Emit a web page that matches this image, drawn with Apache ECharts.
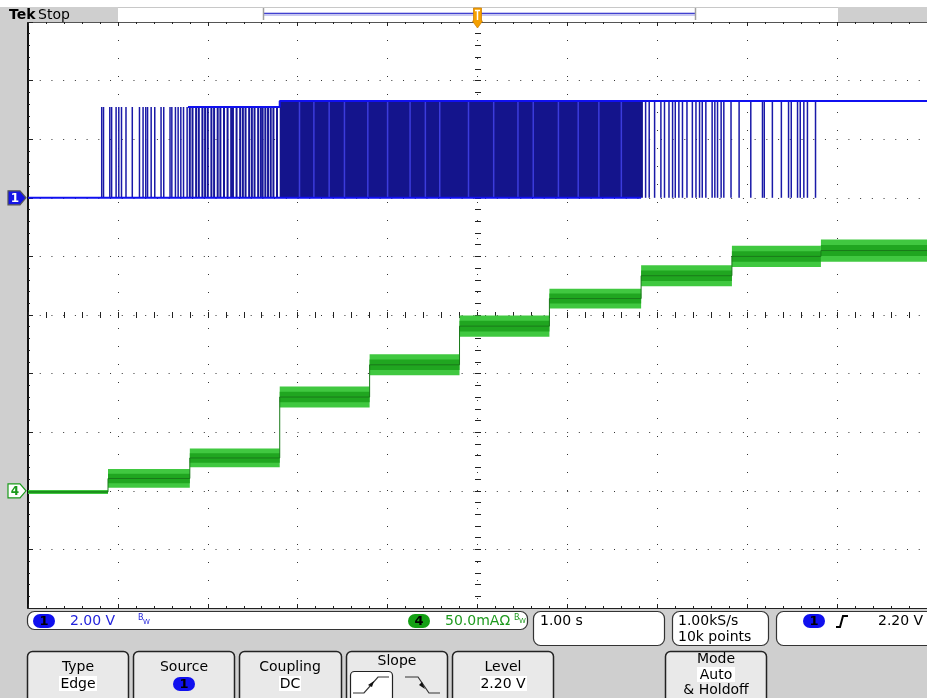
<!DOCTYPE html>
<html><head><meta charset="utf-8">
<script src="https://cdn.jsdelivr.net/npm/echarts@6/dist/echarts.min.js"></script>
<style>html,body{margin:0;padding:0;background:#fff}#c{width:927px;height:698px}</style>
</head><body><div id="c"></div><script>
// ---------- DATA ----------
// Horizontal: 1.00 s/div, trigger at 0 s; vertical grid in divisions
const gridDivs = [-5, 5];
// Channel 1 (2.00 V/div), logic levels in volts
const ch1Low = 0.0;
const ch1HighEarly = 3.1;
const ch1HighLate = 3.3;
const ch1LevelChangeT = -2.2;
const ch1TopStartT = -3.22;
const ch1LowEndT = 1.82;
// isolated high-going pulses (s)
const ch1EarlyPulseT = [-4.18, -4.16, -4.09, -4.07, -4.02, -3.99, -3.96, -3.91, -3.84, -3.76, -3.72, -3.69, -3.67, -3.63, -3.59, -3.52, -3.49, -3.42, -3.40, -3.36, -3.33, -3.30, -3.27, -3.23];
// closely spaced pulses before the dense burst (s)
const ch1MidPulseT = [-3.20, -3.17, -3.13, -3.10, -3.06, -3.03, -3.00, -2.96, -2.93, -2.89, -2.86, -2.82, -2.78, -2.74, -2.72, -2.68, -2.64, -2.61, -2.58, -2.54, -2.51, -2.48, -2.44, -2.41, -2.39, -2.36, -2.33, -2.30, -2.27, -2.23];
// unresolved dense toggling (start s, end s)
const ch1BurstStart = [-2.20];
const ch1BurstEnd = [1.84];
// lighter stripes visible inside the dense burst (s)
const ch1BurstLightT = [-1.98, -1.82, -1.65, -1.48, -1.22, -1.0, -0.75, -0.58, -0.42, -0.1, 0.18, 0.45, 0.62, 0.9, 1.12, 1.35, 1.6];
// isolated low-going pulses (s)
const ch1LatePulseT = [1.87, 1.91, 1.97, 2.04, 2.08, 2.13, 2.17, 2.20, 2.24, 2.28, 2.33, 2.39, 2.43, 2.47, 2.50, 2.54, 2.61, 2.64, 2.67, 2.71, 2.74, 2.82, 2.91, 3.04, 3.17, 3.19, 3.28, 3.38, 3.46, 3.49, 3.56, 3.59, 3.63, 3.67, 3.76];
// Channel 4 (50.0 mA/div) staircase
const ch4StepT = [-5, -4.11, -3.2, -2.2, -1.2, -0.2, 0.8, 1.82, 2.83, 3.82];
const ch4StepLevel = [-1, 10.5, 28, 80, 107.5, 140.5, 164, 183.5, 200, 205];
const ch4StepNoise = [3.5, 16, 16, 18, 18, 18, 17, 18, 18, 19];
const ch4EndT = 5;

// ---------- CHART ----------
const chart = echarts.init(document.getElementById('c'));
const FONT = 'DejaVu Sans';
const G = {left: 28, top: 22, width: 900, height: 586};

function hiAt(t) { return t < ch1LevelChangeT ? ch1HighEarly : ch1HighLate; }

const pulseData = ch1EarlyPulseT.concat(ch1LatePulseT).map(t => [t, 0]).concat(ch1MidPulseT.map(t => [t, 1]));
const burstData = ch1BurstStart.map((s, i) => [s, ch1BurstEnd[i]]);
const lightData = ch1BurstLightT.map(t => [t]);
const stepData = ch4StepT.map((t, i) => [t, i + 1 < ch4StepT.length ? ch4StepT[i + 1] : ch4EndT, ch4StepLevel[i], ch4StepNoise[i]]);
const stepLine = ch4StepT.map((t, i) => [t, ch4StepLevel[i]]).concat([[ch4EndT, ch4StepLevel[ch4StepLevel.length - 1]]]);

const dotted = (gap) => ({show: true, lineStyle: {color: '#333', width: 1, type: [1, gap]}});
const baseAxis = {type: 'value', min: gridDivs[0], max: gridDivs[1], interval: 1, axisLabel: {show: false}};

const option = {
  animation: false,
  backgroundColor: '#ffffff',
  grid: {left: G.left, top: G.top, width: G.width, height: G.height, show: true, backgroundColor: '#fff', borderWidth: 0},
  xAxis: [
    Object.assign({}, baseAxis, {position: 'bottom', axisLine: {onZero: false, lineStyle: {color: '#222', width: 1}},
      axisTick: {inside: true, length: 4, lineStyle: {color: '#222'}}, minorTick: {show: true, splitNumber: 5, length: 2, lineStyle: {color: '#222'}},
      splitLine: dotted(17)}),
    Object.assign({}, baseAxis, {position: 'top', axisLine: {onZero: false, lineStyle: {color: '#555', width: 1}},
      axisTick: {inside: true, length: 4, lineStyle: {color: '#222'}}, minorTick: {show: true, splitNumber: 5, length: 2, lineStyle: {color: '#222'}},
      splitLine: {show: false}}),
    Object.assign({}, baseAxis, {position: 'bottom', offset: -293, axisLine: {onZero: false, show: false},
      axisTick: {inside: true, length: 3, lineStyle: {color: '#222'}}, minorTick: {show: true, splitNumber: 5, length: 3, lineStyle: {color: '#222'}},
      splitLine: {show: false}}),
    Object.assign({}, baseAxis, {position: 'bottom', offset: -293, axisLine: {onZero: false, show: false},
      axisTick: {inside: false, length: 3, lineStyle: {color: '#222'}}, minorTick: {show: true, splitNumber: 5, length: 3, lineStyle: {color: '#222'}},
      splitLine: {show: false}})
  ],
  yAxis: [
    Object.assign({}, baseAxis, {position: 'left', axisLine: {onZero: false, lineStyle: {color: '#111', width: 2}},
      axisTick: {inside: true, length: 5, lineStyle: {color: '#222'}}, minorTick: {show: true, splitNumber: 5, length: 2, lineStyle: {color: '#222'}},
      splitLine: dotted(10.72)}),
    {type: 'value', min: -14, max: 6, show: false},
    {type: 'value', min: -100, max: 400, show: false},
    Object.assign({}, baseAxis, {position: 'left', offset: -450, axisLine: {onZero: false, show: false},
      axisTick: {inside: true, length: 3, lineStyle: {color: '#222'}}, minorTick: {show: true, splitNumber: 5, length: 3, lineStyle: {color: '#222'}},
      splitLine: {show: false}}),
    Object.assign({}, baseAxis, {position: 'left', offset: -450, axisLine: {onZero: false, show: false},
      axisTick: {inside: false, length: 3, lineStyle: {color: '#222'}}, minorTick: {show: true, splitNumber: 5, length: 3, lineStyle: {color: '#222'}},
      splitLine: {show: false}})
  ],
  series: [
    {type: 'custom', xAxisIndex: 0, yAxisIndex: 2, z: 3, data: stepData, clip: true,
      renderItem: function (params, api) {
        const t0 = api.value(0), t1 = api.value(1), lv = api.value(2), n = api.value(3);
        const a = api.coord([t0, lv + n / 2]), b = api.coord([t1, lv - n / 2]);
        const c = api.coord([t0, lv + n / 4]), d = api.coord([t1, lv - n / 4]);
        return {type: 'group', children: [
          {type: 'rect', shape: {x: a[0], y: a[1], width: b[0] - a[0], height: b[1] - a[1]}, style: {fill: '#40c840'}},
          {type: 'rect', shape: {x: c[0], y: c[1], width: d[0] - c[0], height: d[1] - c[1]}, style: {fill: '#20a620'}}
        ]};
      }},
    {type: 'line', xAxisIndex: 0, yAxisIndex: 2, z: 4, data: stepLine, step: 'end', symbol: 'none',
      lineStyle: {color: '#1a7a1a', width: 1}},
    {type: 'custom', xAxisIndex: 0, yAxisIndex: 1, z: 5, data: burstData,
      renderItem: function (params, api) {
        const s = api.value(0), e = api.value(1);
        const a = api.coord([s, hiAt(s + 0.001)]), b = api.coord([e, ch1Low]);
        return {type: 'rect', shape: {x: a[0], y: a[1], width: b[0] - a[0], height: b[1] - a[1]}, style: {fill: '#14148c'}};
      }},
    {type: 'custom', xAxisIndex: 0, yAxisIndex: 1, z: 6, data: lightData,
      renderItem: function (params, api) {
        const t = api.value(0);
        const a = api.coord([t, hiAt(t)]), b = api.coord([t, ch1Low]);
        return {type: 'line', shape: {x1: a[0], y1: a[1], x2: b[0], y2: b[1]}, style: {stroke: '#3c3cdc', lineWidth: 1.5}};
      }},
    {type: 'custom', xAxisIndex: 0, yAxisIndex: 1, z: 6, data: pulseData,
      renderItem: function (params, api) {
        const t = api.value(0), k = api.value(1);
        const a = api.coord([t, hiAt(t)]), b = api.coord([t, ch1Low]);
        return {type: 'line', shape: {x1: a[0], y1: a[1], x2: b[0], y2: b[1]},
          style: {stroke: k ? '#16169a' : '#1a1aa8', lineWidth: k ? 2 : 1.5}};
      }},
    {type: 'line', xAxisIndex: 0, yAxisIndex: 1, z: 7, symbol: 'none', data: [[gridDivs[0], ch1Low], [ch1LowEndT, ch1Low]],
      lineStyle: {color: '#1010f0', width: 2}},
    {type: 'line', xAxisIndex: 0, yAxisIndex: 1, z: 7, symbol: 'none',
      data: [[ch1TopStartT, ch1HighEarly], [ch1LevelChangeT, ch1HighEarly], [ch1LevelChangeT, ch1HighLate], [gridDivs[1], ch1HighLate]],
      lineStyle: {color: '#1010f0', width: 2}}
  ],
  graphic: []
};
chart.setOption(option);

// ---------- SCREEN CHROME ----------
const ch1Y = chart.convertToPixel({xAxisIndex: 0, yAxisIndex: 1}, [0, ch1Low])[1];
const ch4Y = chart.convertToPixel({xAxisIndex: 0, yAxisIndex: 2}, [0, 0])[1];
const trigX = chart.convertToPixel({xAxisIndex: 0, yAxisIndex: 0}, [0, 0])[0];

function txt(x, y, s, o) {
  return Object.assign({type: 'text', x: x, y: y, style: Object.assign({text: s, fill: '#000', font: '14px "' + FONT + '"', textVerticalAlign: 'middle'}, o || {}), z: 100});
}
function rrect(x, y, w, h, r, fill, stroke, lw, z) {
  return {type: 'rect', shape: {x: x, y: y, width: w, height: h, r: r}, style: {fill: fill, stroke: stroke || null, lineWidth: lw || 1}, z: z || 90};
}
function pill(cx, cy, fill, label) {
  return [rrect(cx - 11, cy - 7, 22, 14, 7, fill, null, 0, 95),
    txt(cx, cy + 1, label, {textAlign: 'center', font: 'bold 13px "' + FONT + '"', fill: '#000'})];
}
function marker(y, fill, stroke, color, label) {
  return [{type: 'polygon', shape: {points: [[8, y - 7], [20, y - 7], [26, y], [20, y + 7], [8, y + 7]]},
    style: {fill: fill, stroke: stroke, lineWidth: 1.2}, z: 95},
    txt(15, y + 1, label, {textAlign: 'center', font: 'bold 12px "' + FONT + '"', fill: color})];
}
const GRAY = '#cfcfcf';
let gfx = [
  rrect(0, 22, 27, 587, 0, GRAY, null, 0, -1),
  rrect(0, 609, 927, 89, 0, GRAY, null, 0, -1),
  rrect(0, 7, 118, 15, 0, GRAY, null, 0, 80),
  rrect(838, 7, 89, 15, 0, GRAY, null, 0, 80),
  {type: 'line', shape: {x1: 118, y1: 7.5, x2: 838, y2: 7.5}, style: {stroke: '#c8c8c8', lineWidth: 1}, z: 80},
  rrect(263, 12, 432, 4, 0, '#c8c8f0', null, 0, 81),
  {type: 'line', shape: {x1: 263, y1: 13.5, x2: 695, y2: 13.5}, style: {stroke: '#4040d0', lineWidth: 1.2}, z: 82},
  {type: 'line', shape: {x1: 263.5, y1: 8, x2: 263.5, y2: 20}, style: {stroke: '#a0a0a0', lineWidth: 1.5}, z: 82},
  {type: 'line', shape: {x1: 695.5, y1: 8, x2: 695.5, y2: 20}, style: {stroke: '#a0a0a0', lineWidth: 1.5}, z: 82},
  txt(9, 15, 'Tek', {font: 'bold 14px "' + FONT + '"', fill: '#000'}),
  txt(38, 15, 'Stop', {font: '14px "' + FONT + '"', fill: '#000'}),
  {type: 'polygon', shape: {points: [[trigX - 4, 8], [trigX + 4, 8], [trigX + 4, 21], [trigX + 5, 21], [trigX, 28], [trigX - 5, 21], [trigX - 4, 21]]},
    style: {fill: '#f5a000', stroke: '#d08000', lineWidth: 0.8}, z: 99},
  {type: 'line', shape: {x1: trigX, y1: 10, x2: trigX, y2: 20}, style: {stroke: '#fff', lineWidth: 1.5}, z: 100},
  {type: 'line', shape: {x1: trigX - 2.5, y1: 10.5, x2: trigX + 2.5, y2: 10.5}, style: {stroke: '#fff', lineWidth: 1.5}, z: 100},
  rrect(27.5, 611.5, 500, 18, 7, '#fff', '#333', 1.2, 88),
  rrect(533.5, 611.5, 131, 34, 7, '#fff', '#333', 1.2, 88),
  rrect(672.5, 611.5, 96, 34, 7, '#fff', '#333', 1.2, 88),
  rrect(776.5, 611.5, 170, 34, 7, '#fff', '#333', 1.2, 88),
  txt(70, 621, '2.00 V', {fill: '#2424dc'}),
  txt(138, 618, 'B', {fill: '#2424dc', font: '8px "' + FONT + '"'}),
  txt(143, 622, 'W', {fill: '#2424dc', font: '7px "' + FONT + '"'}),
  txt(445, 621, '50.0mAΩ', {fill: '#1f9a1f'}),
  txt(514, 618, 'B', {fill: '#1f9a1f', font: '8px "' + FONT + '"'}),
  txt(519, 621, 'W', {fill: '#1f9a1f', font: '7px "' + FONT + '"'}),
  txt(540, 621, '1.00 s'),
  txt(678, 621, '1.00kS/s'),
  txt(678, 637, '10k points'),
  {type: 'polyline', shape: {points: [[836, 627], [840, 627], [843, 616], [848, 616]]}, style: {stroke: '#000', lineWidth: 2, fill: null}, z: 100},
  txt(878, 621, '2.20 V'),
  rrect(27.5, 651.5, 101, 60, 5, '#e9e9e9', '#222', 1.5, 90),
  rrect(133.5, 651.5, 101, 60, 5, '#e9e9e9', '#222', 1.5, 90),
  rrect(239.5, 651.5, 102, 60, 5, '#e9e9e9', '#222', 1.5, 90),
  rrect(346.5, 651.5, 101, 60, 5, '#e9e9e9', '#222', 1.5, 90),
  rrect(452.5, 651.5, 101, 60, 5, '#e9e9e9', '#222', 1.5, 90),
  rrect(665.5, 651.5, 101, 60, 5, '#e9e9e9', '#222', 1.5, 90),
  txt(78, 667, 'Type', {textAlign: 'center'}),
  rrect(59, 676, 38, 15, 0, '#fff', null, 0, 95),
  txt(78, 684, 'Edge', {textAlign: 'center'}),
  txt(184, 667, 'Source', {textAlign: 'center'}),
  txt(290, 667, 'Coupling', {textAlign: 'center'}),
  rrect(279, 676, 22, 15, 0, '#fff', null, 0, 95),
  txt(290, 684, 'DC', {textAlign: 'center'}),
  txt(397, 661, 'Slope', {textAlign: 'center'}),
  rrect(350.5, 671.5, 42, 30, 4, '#fff', '#222', 1.2, 94),
  {type: 'polyline', shape: {points: [[353, 693], [364, 693], [378, 677], [389, 677]]}, style: {stroke: '#333', lineWidth: 1.2, fill: null}, z: 96},
  {type: 'polygon', shape: {points: [[374, 681], [368, 685], [372, 687]]}, style: {fill: '#111'}, z: 97},
  {type: 'polyline', shape: {points: [[405, 677], [418, 677], [429, 693], [440, 693]]}, style: {stroke: '#333', lineWidth: 1.2, fill: null}, z: 96},
  {type: 'polygon', shape: {points: [[425, 689], [422, 682], [419, 685]]}, style: {fill: '#111'}, z: 97},
  txt(503, 667, 'Level', {textAlign: 'center'}),
  rrect(480, 676, 47, 15, 0, '#fff', null, 0, 95),
  txt(503, 684, '2.20 V', {textAlign: 'center'}),
  txt(716, 659, 'Mode', {textAlign: 'center'}),
  rrect(697, 667, 38, 15, 0, '#fff', null, 0, 95),
  txt(716, 675, 'Auto', {textAlign: 'center'}),
  txt(716, 690, '& Holdoff', {textAlign: 'center'})
];
gfx = gfx.concat(pill(44, 621, '#1010ee', '1'), pill(419, 621, '#14a014', '4'), pill(814, 621, '#1010ee', '1'), pill(184, 684, '#1010ee', '1'));
gfx = gfx.concat(marker(ch1Y, '#1515e6', '#555', '#fff', '1'), marker(ch4Y, '#fff', '#1a9a1a', '#1a9a1a', '4'));
chart.setOption({graphic: {elements: gfx}});
</script></body></html>
